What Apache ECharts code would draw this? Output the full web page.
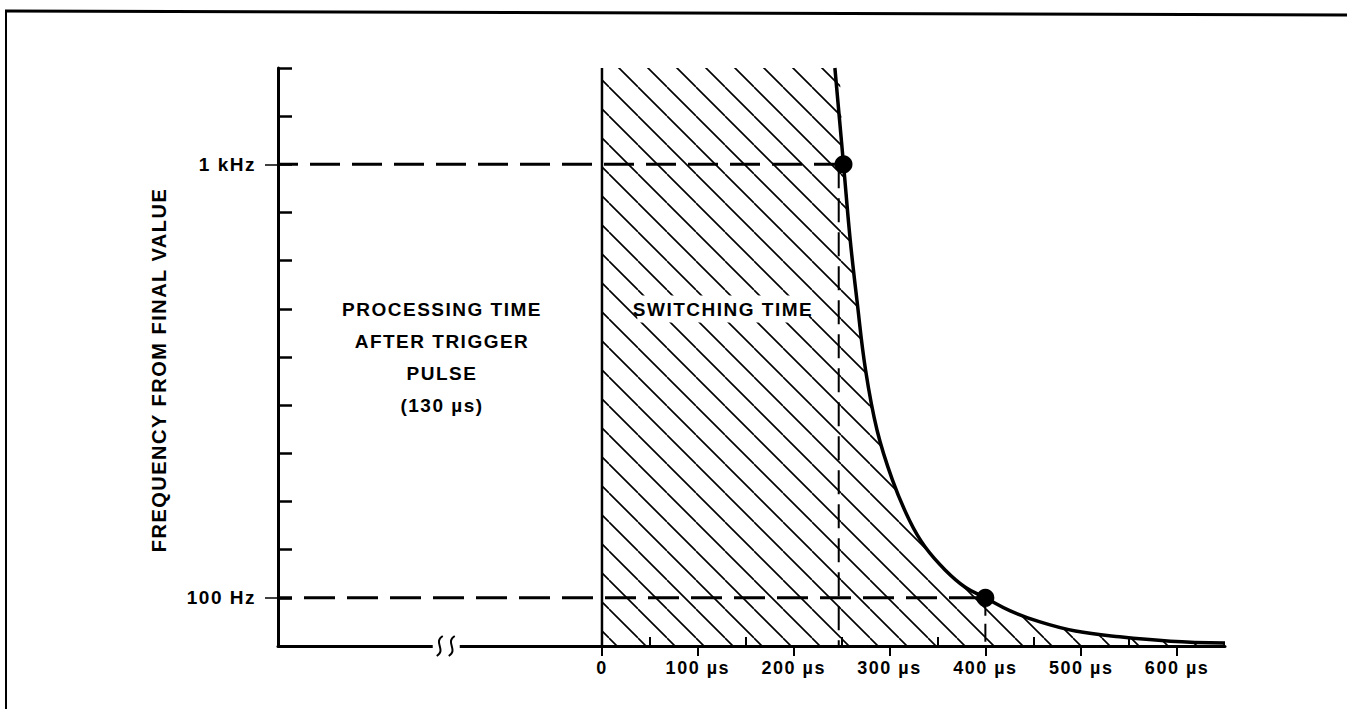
<!DOCTYPE html>
<html><head><meta charset="utf-8">
<script src="https://cdn.jsdelivr.net/npm/echarts@6/dist/echarts.min.js"></script>
<style>
html,body{margin:0;padding:0;background:#fff;}
#c{width:1347px;height:709px;letter-spacing:1.5px;}
</style></head><body><div id="c"></div>
<script>
// ---- data ----
const curveTime = [243, 252, 259, 266, 275, 287, 303, 321, 337, 358, 379, 400, 426, 457, 494, 540, 593, 650];
const curveFreq = [1200, 1000, 843, 718, 573, 448, 345, 260, 206, 158, 122, 100, 73, 50, 31, 19, 10, 6];
const markerTime = [252, 400];
const markerFreq = [1000, 100];
const guideTime = [247, 400];          // vertical dashed guides
const guideTop = [1000, 100];
const switchStartTime = 0;
const xTickValues = [0, 100, 200, 300, 400, 500, 600];
const xTickLabels = ['0', '100 µs', '200 µs', '300 µs', '400 µs', '500 µs', '600 µs'];
const xMinorTicks = [50, 150, 250, 350, 450, 550];
const yTickValues = [100, 1000];
const yTickLabels = ['100 Hz', '1 kHz'];
const xMin = -338, xMax = 650, yMin = 0, yMax = 1200, yStep = 100;
const breakAt = -163;
const yTitle = 'FREQUENCY FROM FINAL VALUE';
const leftNote = ['PROCESSING TIME', 'AFTER TRIGGER', 'PULSE', '(130 µs)'];
const rightNote = 'SWITCHING TIME';

const FF = '"Liberation Sans", Arial, sans-serif';
const chart = echarts.init(document.getElementById('c'), null, {renderer: 'svg'});

function hatch() {
  const s = 29;
  const c = document.createElement('canvas');
  c.width = s; c.height = s;
  const g = c.getContext('2d');
  g.strokeStyle = '#000'; g.lineWidth = 1.6;
  g.beginPath();
  for (let k = -1; k <= 1; k++) { g.moveTo(k * s, 0); g.lineTo(k * s + s, s); }
  g.stroke();
  return {image: c.toDataURL(), repeat: 'repeat', imageWidth: s, imageHeight: s};
}

const curve = curveTime.map((t, i) => [t, curveFreq[i]]);
const areaData = [[switchStartTime, yMax]].concat(curve);

chart.setOption({
  animation: false,
  backgroundColor: '#fff',
  grid: {left: 278, right: 122, top: 68, bottom: 63},
  xAxis: [
    {type: 'value', min: xMin, max: xMax,
     axisLine: {show: true, onZero: false, lineStyle: {color: '#000', width: 3}},
     splitLine: {show: false},
     axisTick: {show: true, inside: false, length: 10, customValues: xTickValues, lineStyle: {color: '#000', width: 2}},
     axisLabel: {show: true, customValues: xTickValues, margin: 13, color: '#000', fontSize: 18, fontWeight: 'bold', fontFamily: FF,
       formatter: v => { const i = xTickValues.indexOf(v); return i < 0 ? '' : xTickLabels[i]; }}},
    {type: 'value', min: xMin, max: xMax, position: 'bottom',
     axisLine: {show: false, onZero: false}, splitLine: {show: false},
     axisTick: {show: true, inside: true, length: 9, customValues: xMinorTicks, lineStyle: {color: '#000', width: 2}},
     axisLabel: {show: false}}
  ],
  yAxis: [
    {type: 'value', min: yMin, max: yMax, interval: yStep,
     axisLine: {show: true, onZero: false, lineStyle: {color: '#000', width: 3}},
     axisTick: {show: true, inside: true, length: 14, lineStyle: {color: '#000', width: 2.5}},
     axisLabel: {show: false}, splitLine: {show: false}},
    {type: 'value', min: yMin, max: yMax, position: 'left',
     axisLine: {show: false, onZero: false}, splitLine: {show: false},
     axisTick: {show: true, inside: false, length: 13, customValues: yTickValues, lineStyle: {color: '#000', width: 1.5}},
     axisLabel: {show: true, customValues: yTickValues, margin: 22, color: '#000', fontSize: 19, fontWeight: 'bold', fontFamily: FF,
       formatter: v => { const i = yTickValues.indexOf(v); return i < 0 ? '' : yTickLabels[i]; }}}
  ],
  series: [
    {type: 'line', name: 'switching', data: areaData, symbol: 'none', silent: true, z: 1, smooth: 0.4,
     lineStyle: {width: 0}, areaStyle: {color: hatch(), opacity: 1}},
    {type: 'line', data: [[switchStartTime, yMin], [switchStartTime, yMax]], symbol: 'none', silent: true, z: 3,
     lineStyle: {color: '#000', width: 2.5}},
    {type: 'line', data: [[xMin, markerFreq[0]], [markerTime[0], markerFreq[0]]], symbol: 'none', silent: true, z: 3,
     lineStyle: {color: '#000', width: 3, type: [30, 12], dashOffset: 10}},
    {type: 'line', data: [[xMin, markerFreq[1]], [markerTime[1], markerFreq[1]]], symbol: 'none', silent: true, z: 3,
     lineStyle: {color: '#000', width: 3, type: [31, 12], dashOffset: 17}},
    {type: 'line', data: [[guideTime[0], guideTop[0]], [guideTime[0], yMin]], symbol: 'none', silent: true, z: 3,
     lineStyle: {color: '#000', width: 2, type: [24, 10]}},
    {type: 'line', data: [[guideTime[1], guideTop[1]], [guideTime[1], yMin]], symbol: 'none', silent: true, z: 3,
     lineStyle: {color: '#000', width: 2, type: [18, 8]}},
    {type: 'line', name: 'frequency', data: curve, symbol: 'none', smooth: 0.4, silent: true, z: 4,
     lineStyle: {color: '#000', width: 3.5}},
    {type: 'scatter', data: markerTime.map((t, i) => [t, markerFreq[i]]), symbol: 'circle', symbolSize: 18, z: 5,
     itemStyle: {color: '#000', opacity: 1}}
  ]
});

const bp = chart.convertToPixel({xAxisIndex: 0, yAxisIndex: 0}, [breakAt, yMin]);
const bx = bp[0], by = bp[1];
function squiggle(cx) {
  return {type: 'bezierCurve', shape: {x1: cx + 3, y1: by - 10, cpx1: cx - 7, cpy1: by - 4, cpx2: cx + 7, cpy2: by + 4, x2: cx - 3, y2: by + 10},
    style: {stroke: '#000', lineWidth: 2, fill: null}, z: 100};
}
const txt = (t, x, y, extra) => ({type: 'text', x: x, y: y, z: 100,
  style: Object.assign({text: t, align: 'center', verticalAlign: 'middle', fill: '#000', font: 'bold 19px ' + FF}, extra || {})});

chart.setOption({
  graphic: [
    {type: 'line', shape: {x1: 5, y1: 11, x2: 1347, y2: 15}, style: {stroke: '#000', lineWidth: 3}, z: 100},
    {type: 'line', shape: {x1: 6, y1: 10, x2: 6, y2: 709}, style: {stroke: '#000', lineWidth: 2}, z: 100},
    {type: 'rect', shape: {x: bx - 13, y: by - 4, width: 27, height: 8}, style: {fill: '#fff'}, z: 99},
    squiggle(bx - 6), squiggle(bx + 6),
    Object.assign(txt(yTitle, 159, 370, {font: 'bold 20px ' + FF}), {rotation: Math.PI / 2}),
    txt(leftNote[0], 442, 309),
    txt(leftNote[1], 442, 341),
    txt(leftNote[2], 442, 373),
    txt(leftNote[3], 442, 405),
    txt(rightNote, 723, 309, {backgroundColor: '#fff', padding: [4, 6]})
  ]
});
</script></body></html>
